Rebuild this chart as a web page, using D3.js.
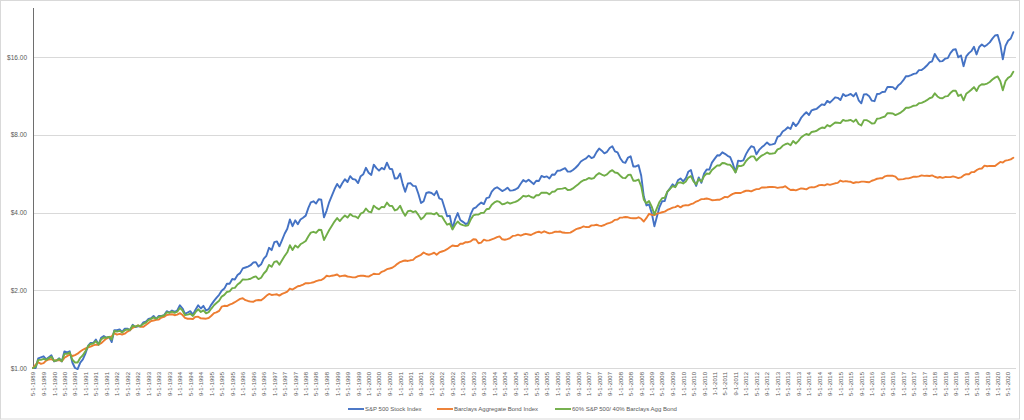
<!DOCTYPE html>
<html>
<head>
<meta charset="utf-8">
<script src="https://cdn.jsdelivr.net/npm/d3@7"></script>
<style>
  html, body { margin: 0; padding: 0; background: #ffffff; }
  svg { display: block; font-family: "Liberation Sans", Arial, sans-serif; }
</style>
</head>
<body>
<svg id="chart" width="1024" height="420"></svg>
<script>
// ---- DATA (growth of $1, monthly, May 1989 – Jul 2020) ----
const seriesNames = ["S&P 500 Stock Index", "Barclays Aggregate Bond Index", "60% S&P 500/ 40% Barclays Agg Bond"];
const seriesColors = ["#4472C4", "#ED7D31", "#70AD47"];
const firstMonth = new Date(1989, 4, 1);
const axisEndMonth = new Date(2020, 7, 1);

const sp500 = [
  1.00, 1.00, 1.09, 1.10, 1.11, 1.08, 1.10, 1.12,
  1.06, 1.07, 1.09, 1.06, 1.16, 1.15, 1.16, 1.05, 1.00, 0.99, 1.05, 1.08,
  1.14, 1.22, 1.25, 1.25, 1.29, 1.23, 1.31, 1.33, 1.31, 1.32, 1.26, 1.40,
  1.40, 1.41, 1.38, 1.42, 1.42, 1.40, 1.47, 1.44, 1.45, 1.45, 1.50, 1.51,
  1.55, 1.56, 1.59, 1.55, 1.59, 1.59, 1.60, 1.66, 1.64, 1.67, 1.65, 1.67,
  1.75, 1.70, 1.62, 1.64, 1.66, 1.61, 1.68, 1.75, 1.70, 1.74, 1.67, 1.69,
  1.76, 1.82, 1.87, 1.92, 1.99, 2.03, 2.12, 2.12, 2.21, 2.20, 2.29, 2.33,
  2.43, 2.45, 2.47, 2.50, 2.56, 2.57, 2.47, 2.52, 2.65, 2.72, 2.92, 2.86,
  3.07, 3.09, 2.96, 3.13, 3.31, 3.46, 3.76, 3.54, 3.73, 3.60, 3.76, 3.82,
  3.89, 4.17, 4.38, 4.42, 4.33, 4.50, 4.48, 3.83, 4.07, 4.39, 4.65, 4.92,
  5.16, 4.99, 5.19, 5.38, 5.25, 5.53, 5.39, 5.36, 5.20, 5.53, 5.63, 5.96,
  5.70, 5.59, 6.13, 5.94, 5.81, 5.95, 5.88, 6.24, 5.91, 5.88, 5.41, 5.43,
  5.66, 5.14, 4.81, 5.18, 5.20, 5.07, 5.06, 4.73, 4.35, 4.42, 4.76, 4.79,
  4.76, 4.67, 4.84, 4.54, 4.50, 4.17, 3.87, 3.89, 3.46, 3.76, 3.98, 3.74,
  3.68, 3.61, 3.64, 3.94, 4.14, 4.19, 4.29, 4.37, 4.31, 4.55, 4.58, 4.82,
  4.95, 5.01, 4.93, 4.84, 4.90, 4.99, 4.86, 4.87, 4.91, 4.98, 5.17, 5.34,
  5.26, 5.36, 5.26, 5.15, 5.31, 5.30, 5.54, 5.48, 5.52, 5.42, 5.61, 5.60,
  5.80, 5.81, 5.87, 5.94, 5.76, 5.76, 5.84, 5.96, 6.11, 6.30, 6.40, 6.48,
  6.64, 6.50, 6.56, 6.85, 7.07, 6.94, 6.78, 6.87, 7.11, 7.22, 6.90, 6.84,
  6.49, 6.27, 6.23, 6.53, 6.60, 6.03, 6.03, 6.10, 5.55, 4.61, 4.26, 4.30,
  3.98, 3.54, 3.84, 4.20, 4.42, 4.43, 4.80, 4.96, 5.14, 5.04, 5.33, 5.42,
  5.28, 5.43, 5.75, 5.84, 5.36, 5.07, 5.47, 5.21, 5.66, 5.87, 5.86, 6.24,
  6.45, 6.66, 6.65, 6.84, 6.75, 6.63, 6.55, 6.18, 5.73, 6.35, 6.32, 6.37,
  6.73, 7.01, 7.22, 7.17, 6.72, 6.99, 7.15, 7.29, 7.47, 7.32, 7.34, 7.39,
  7.85, 7.94, 8.23, 8.37, 8.55, 8.42, 8.92, 8.64, 8.90, 9.29, 9.56, 9.78,
  9.54, 9.95, 10.02, 10.08, 10.29, 10.49, 10.43, 10.82, 10.65, 10.90, 11.17, 11.12,
  10.90, 11.50, 11.30, 11.39, 11.51, 11.27, 11.61, 10.88, 10.59, 11.47, 11.48, 11.28,
  10.84, 10.79, 11.50, 11.53, 11.71, 11.72, 12.26, 12.25, 12.23, 11.99, 12.40, 12.63,
  13.01, 13.49, 13.48, 13.61, 13.76, 13.83, 14.23, 14.24, 14.51, 14.83, 15.25, 15.40,
  16.45, 15.81, 15.38, 15.43, 15.76, 15.84, 16.56, 17.06, 17.14, 15.95, 16.23, 14.74,
  16.08, 16.56, 16.86, 17.52, 16.37, 17.49, 17.88, 17.56, 17.86, 18.23, 18.85, 19.38,
  19.48, 17.87, 15.66, 17.67, 18.50, 18.87, 19.95
];

const aggBond = [
  1.000, 1.030, 1.053, 1.038, 1.044, 1.068, 1.079, 1.082,
  1.069, 1.072, 1.073, 1.064, 1.095, 1.112, 1.128, 1.113, 1.122, 1.136, 1.159, 1.177,
  1.192, 1.202, 1.211, 1.224, 1.231, 1.230, 1.247, 1.274, 1.300, 1.314, 1.326, 1.365,
  1.347, 1.356, 1.348, 1.358, 1.383, 1.402, 1.431, 1.445, 1.462, 1.443, 1.443, 1.466,
  1.494, 1.520, 1.527, 1.537, 1.540, 1.568, 1.577, 1.604, 1.609, 1.615, 1.601, 1.609,
  1.631, 1.603, 1.563, 1.551, 1.551, 1.547, 1.578, 1.580, 1.557, 1.555, 1.552, 1.562,
  1.593, 1.631, 1.641, 1.664, 1.728, 1.741, 1.737, 1.758, 1.775, 1.798, 1.825, 1.851,
  1.863, 1.831, 1.818, 1.808, 1.804, 1.828, 1.833, 1.830, 1.862, 1.903, 1.936, 1.918,
  1.924, 1.929, 1.907, 1.936, 1.954, 1.977, 2.030, 2.013, 2.043, 2.072, 2.082, 2.103,
  2.130, 2.128, 2.136, 2.147, 2.168, 2.186, 2.191, 2.224, 2.276, 2.264, 2.277, 2.286,
  2.302, 2.262, 2.274, 2.281, 2.261, 2.254, 2.244, 2.243, 2.269, 2.277, 2.277, 2.267,
  2.259, 2.287, 2.317, 2.310, 2.309, 2.357, 2.378, 2.413, 2.428, 2.444, 2.484, 2.531,
  2.572, 2.595, 2.608, 2.597, 2.612, 2.622, 2.681, 2.712, 2.743, 2.801, 2.762, 2.745,
  2.767, 2.794, 2.747, 2.801, 2.825, 2.849, 2.884, 2.932, 2.980, 2.966, 2.966, 3.026,
  3.029, 3.071, 3.069, 3.095, 3.152, 3.146, 3.040, 3.060, 3.141, 3.112, 3.120, 3.150,
  3.176, 3.210, 3.234, 3.150, 3.137, 3.155, 3.186, 3.247, 3.256, 3.283, 3.257, 3.287,
  3.308, 3.289, 3.272, 3.316, 3.352, 3.370, 3.339, 3.382, 3.347, 3.320, 3.335, 3.367,
  3.367, 3.378, 3.345, 3.339, 3.335, 3.342, 3.387, 3.439, 3.469, 3.492, 3.533, 3.513,
  3.512, 3.566, 3.566, 3.586, 3.559, 3.548, 3.578, 3.621, 3.649, 3.681, 3.747, 3.758,
  3.823, 3.828, 3.841, 3.833, 3.805, 3.802, 3.798, 3.833, 3.782, 3.692, 3.812, 3.955,
  3.921, 3.906, 3.960, 3.979, 4.008, 4.031, 4.091, 4.133, 4.176, 4.197, 4.250, 4.189,
  4.252, 4.268, 4.263, 4.307, 4.343, 4.411, 4.451, 4.508, 4.513, 4.530, 4.504, 4.463,
  4.468, 4.479, 4.482, 4.539, 4.598, 4.585, 4.658, 4.725, 4.759, 4.764, 4.760, 4.813,
  4.856, 4.855, 4.829, 4.884, 4.928, 4.930, 4.998, 5.001, 5.008, 5.018, 5.026, 5.016,
  4.980, 5.005, 5.009, 5.056, 4.966, 4.889, 4.899, 4.874, 4.920, 4.960, 4.942, 4.915,
  4.990, 5.017, 5.006, 5.048, 5.106, 5.109, 5.096, 5.152, 5.117, 5.153, 5.190, 5.208,
  5.317, 5.267, 5.291, 5.272, 5.259, 5.202, 5.238, 5.230, 5.266, 5.267, 5.253, 5.237,
  5.309, 5.355, 5.404, 5.425, 5.426, 5.523, 5.558, 5.551, 5.548, 5.504, 5.371, 5.376,
  5.387, 5.423, 5.420, 5.462, 5.504, 5.498, 5.522, 5.571, 5.545, 5.548, 5.541, 5.566,
  5.502, 5.454, 5.489, 5.448, 5.486, 5.481, 5.482, 5.517, 5.481, 5.437, 5.470, 5.567,
  5.626, 5.623, 5.731, 5.733, 5.835, 5.908, 5.921, 6.074, 6.042, 6.060, 6.057, 6.052,
  6.169, 6.280, 6.243, 6.354, 6.384, 6.422, 6.518
];

const mix6040 = [
  1.000, 1.012, 1.075, 1.075, 1.084, 1.075, 1.092, 1.105,
  1.064, 1.071, 1.084, 1.062, 1.134, 1.135, 1.148, 1.076, 1.050, 1.050, 1.095, 1.120,
  1.163, 1.217, 1.239, 1.244, 1.271, 1.233, 1.290, 1.312, 1.310, 1.321, 1.289, 1.391,
  1.384, 1.393, 1.372, 1.400, 1.410, 1.406, 1.460, 1.447, 1.460, 1.453, 1.482, 1.498,
  1.533, 1.550, 1.571, 1.551, 1.576, 1.587, 1.597, 1.644, 1.634, 1.654, 1.636, 1.652,
  1.708, 1.667, 1.603, 1.610, 1.622, 1.591, 1.645, 1.688, 1.648, 1.671, 1.629, 1.645,
  1.699, 1.750, 1.784, 1.822, 1.890, 1.919, 1.970, 1.979, 2.038, 2.042, 2.106, 2.141,
  2.202, 2.198, 2.203, 2.215, 2.246, 2.263, 2.210, 2.236, 2.322, 2.380, 2.506, 2.464,
  2.576, 2.589, 2.510, 2.613, 2.715, 2.805, 2.987, 2.864, 2.978, 2.926, 3.013, 3.055,
  3.104, 3.237, 3.343, 3.368, 3.337, 3.429, 3.423, 3.130, 3.275, 3.422, 3.554, 3.689,
  3.807, 3.705, 3.803, 3.893, 3.822, 3.943, 3.874, 3.859, 3.804, 3.958, 4.003, 4.145,
  4.031, 4.005, 4.253, 4.168, 4.113, 4.207, 4.193, 4.369, 4.242, 4.241, 4.074, 4.117,
  4.248, 4.027, 3.885, 4.046, 4.065, 4.012, 4.046, 3.916, 3.764, 3.833, 3.963, 3.965,
  3.963, 3.934, 3.991, 3.873, 3.868, 3.717, 3.589, 3.626, 3.440, 3.581, 3.691, 3.606,
  3.573, 3.552, 3.569, 3.755, 3.898, 3.924, 3.931, 3.987, 3.991, 4.116, 4.137, 4.290,
  4.374, 4.424, 4.395, 4.301, 4.326, 4.384, 4.331, 4.370, 4.396, 4.448, 4.535, 4.642,
  4.612, 4.654, 4.592, 4.559, 4.663, 4.668, 4.776, 4.769, 4.770, 4.703, 4.810, 4.823,
  4.927, 4.938, 4.950, 4.983, 4.888, 4.892, 4.959, 5.051, 5.145, 5.257, 5.332, 5.362,
  5.441, 5.404, 5.434, 5.590, 5.683, 5.612, 5.551, 5.622, 5.758, 5.832, 5.713, 5.690,
  5.555, 5.445, 5.432, 5.585, 5.604, 5.312, 5.310, 5.367, 5.048, 4.487, 4.341, 4.430,
  4.217, 3.931, 4.152, 4.394, 4.545, 4.562, 4.818, 4.934, 5.062, 5.013, 5.211, 5.233,
  5.183, 5.278, 5.461, 5.535, 5.275, 5.141, 5.393, 5.271, 5.534, 5.664, 5.645, 5.845,
  5.966, 6.090, 6.085, 6.222, 6.202, 6.128, 6.121, 5.949, 5.714, 6.065, 6.046, 6.101,
  6.330, 6.490, 6.598, 6.597, 6.361, 6.517, 6.643, 6.725, 6.832, 6.751, 6.767, 6.790,
  7.024, 7.088, 7.250, 7.352, 7.403, 7.289, 7.570, 7.403, 7.571, 7.807, 7.947, 8.053,
  7.983, 8.203, 8.231, 8.288, 8.430, 8.531, 8.492, 8.722, 8.615, 8.762, 8.920, 8.907,
  8.876, 9.130, 9.050, 9.081, 9.129, 8.975, 9.163, 8.807, 8.692, 9.116, 9.111, 9.004,
  8.842, 8.850, 9.224, 9.253, 9.339, 9.411, 9.694, 9.684, 9.672, 9.527, 9.632, 9.746,
  9.930, 10.178, 10.171, 10.262, 10.362, 10.390, 10.592, 10.633, 10.739, 10.889, 11.079, 11.166,
  11.571, 11.254, 11.095, 11.084, 11.258, 11.288, 11.602, 11.848, 11.854, 11.301, 11.449, 10.879,
  11.518, 11.728, 11.946, 12.239, 11.810, 12.363, 12.546, 12.524, 12.631, 12.809, 13.082, 13.312,
  13.456, 12.886, 11.899, 12.900, 13.288, 13.479, 14.022
];

const yTickValues = [1, 2, 4, 8, 16];
const yTickLabels = ["$1.00", "$2.00", "$4.00", "$8.00", "$16.00"];

// ---- LAYOUT ----
const W = 1024, H = 420;
const plot = { left: 33, right: 1016, top: 8, bottom: 368, yMaxTick: 57 };

const svg = d3.select("#chart");
svg.append("rect").attr("x", 0).attr("y", 0).attr("width", W).attr("height", H).attr("fill", "#ffffff");
svg.append("rect").attr("x", 0.5).attr("y", 0.5).attr("width", 1019).attr("height", 418.5)
  .attr("fill", "none").attr("stroke", "#d9d9d9").attr("stroke-width", 1);

const months = d3.timeMonth.range(firstMonth, axisEndMonth);
const x = d3.scaleTime().domain([firstMonth, axisEndMonth]).range([plot.left, plot.right]);
const y = d3.scaleLog().base(2).domain([1, 16]).range([plot.bottom, plot.yMaxTick]);

// gridlines + y labels via axisLeft
const yAxis = d3.axisLeft(y)
  .tickValues(yTickValues)
  .tickFormat((d, i) => yTickLabels[i])
  .tickSize(-(plot.right - plot.left))
  .tickPadding(6);
const gy = svg.append("g").attr("transform", `translate(${plot.left},0)`).call(yAxis);
gy.select(".domain").remove();
gy.selectAll(".tick line").attr("stroke", "#d9d9d9").attr("stroke-width", 1)
  .attr("shape-rendering", "crispEdges");
gy.selectAll(".tick text").attr("fill", "#595959").attr("font-size", "6.5px")
  .attr("font-family", "'Liberation Sans', Arial, sans-serif");

// vertical axis line
svg.append("line").attr("x1", plot.left + 0.5).attr("x2", plot.left + 0.5)
  .attr("y1", plot.top).attr("y2", plot.bottom)
  .attr("stroke", "#6e6e6e").attr("stroke-width", 1);

// x axis labels every 4 months
const xTicks = d3.timeMonth.every(4).range(firstMonth, axisEndMonth);
const xAxis = d3.axisBottom(x).tickValues(xTicks).tickFormat(d3.timeFormat("%-m-%-d-%Y")).tickSize(0);
const gx = svg.append("g").attr("transform", `translate(0,${plot.bottom})`).call(xAxis);
gx.select(".domain").remove();
gx.selectAll(".tick text")
  .attr("fill", "#595959").attr("font-size", "6px")
  .attr("font-family", "'Liberation Sans', Arial, sans-serif")
  .attr("text-anchor", "end")
  .attr("transform", "rotate(-90)")
  .attr("x", -4).attr("y", 0).attr("dy", "0.32em");

// lines
const seriesData = [sp500, aggBond, mix6040];
const line = d3.line().x((d, i) => x(months[i])).y(d => y(d));
seriesData.forEach((vals, k) => {
  svg.append("path").datum(vals)
    .attr("fill", "none")
    .attr("stroke", seriesColors[k])
    .attr("stroke-width", 1.9)
    .attr("stroke-linejoin", "round")
    .attr("stroke-linecap", "round")
    .attr("d", line);
});

// legend
const legendX = [348, 437, 555];
const legendY = 409;
const lg = svg.append("g");
seriesNames.forEach((name, k) => {
  lg.append("line").attr("x1", legendX[k]).attr("x2", legendX[k] + 16)
    .attr("y1", legendY).attr("y2", legendY)
    .attr("stroke", seriesColors[k]).attr("stroke-width", 1.9);
  lg.append("text").attr("x", legendX[k] + 17).attr("y", legendY).attr("dy", "0.33em")
    .attr("fill", "#595959").attr("font-size", "6px").text(name);
});
</script>
</body>
</html>
